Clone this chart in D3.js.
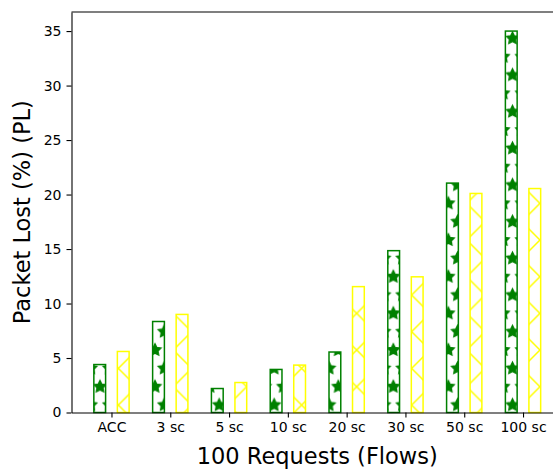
<!DOCTYPE html>
<html>
<head>
<meta charset="utf-8">
<script src="https://cdn.jsdelivr.net/npm/d3@7"></script>
<style>
  html, body { margin: 0; padding: 0; background: #fff; overflow: hidden; }
  svg { display: block; font-family: "DejaVu Sans", sans-serif; }
</style>
</head>
<body>
<div id="chart-container"></div>
<script>
const width = 553;
const height = 469;

// data
const categories = ["ACC", "3 sc", "5 sc", "10 sc", "20 sc", "30 sc", "50 sc", "100 sc"];
const greenValues = [4.4, 8.35, 2.2, 3.95, 5.55, 14.85, 21.05, 35.0];
const yellowValues = [5.6, 9.0, 2.75, 4.35, 11.55, 12.45, 20.1, 20.55];
const yTicks = [0, 5, 10, 15, 20, 25, 30, 35];

const series = [
  { key: "green", values: greenValues, color: "#008000", pattern: "stars", offset: -0.2 },
  { key: "yellow", values: yellowValues, color: "#ffff00", pattern: "crosses", offset: 0.2 },
];

const barWidth = 0.2;
const plot = { left: 71.5, right: 563, top: 12, bottom: 412.5 };
// hatch grid (matplotlib tiles its hatches on a fixed pixel grid)
const hatchTile = 110;
const hatchOrigin = { x: 100, y: 386.7 };

const x = d3
  .scaleLinear()
  .domain([-0.68, categories.length - 1 + 0.68])
  .range([plot.left, plot.right]);

const y = d3
  .scaleLinear()
  .domain([0, d3.max(greenValues.concat(yellowValues)) * 1.05])
  .range([plot.bottom, plot.top]);

const svg = d3
  .select("#chart-container")
  .append("svg")
  .attr("width", width)
  .attr("height", height)
  .attr("viewBox", `0 0 ${width} ${height}`);

svg.append("rect").attr("width", width).attr("height", height).attr("fill", "#fff");

const defs = svg.append("defs");

// star hatch: rows of filled 5-point stars, odd rows shifted half a step
const rowStep = hatchTile / 6;
const starR = rowStep / 3;
const starPath = d3
  .lineRadial()
  .angle((d, i) => (i * Math.PI) / 5)
  .radius((d, i) => (i % 2 === 0 ? starR : starR * 0.5))
  .curve(d3.curveLinearClosed)(d3.range(10));

const stars = defs
  .append("pattern")
  .attr("id", "stars")
  .attr("patternUnits", "userSpaceOnUse")
  .attr("x", hatchOrigin.x)
  .attr("y", hatchOrigin.y)
  .attr("width", rowStep)
  .attr("height", rowStep * 2);

[[0, 0], [rowStep, 0], [0, rowStep * 2], [rowStep, rowStep * 2], [rowStep / 2, rowStep]].forEach(([px, py]) => {
  stars
    .append("path")
    .attr("d", starPath)
    .attr("transform", `translate(${px},${py})`)
    .attr("fill", "#008000")
    .attr("stroke", "#008000")
    .attr("stroke-width", 1.4)
    .attr("stroke-linejoin", "miter");
});

// x hatch: diagonals in both directions
const crossStep = hatchTile / 3;
const crosses = defs
  .append("pattern")
  .attr("id", "crosses")
  .attr("patternUnits", "userSpaceOnUse")
  .attr("x", hatchOrigin.x)
  .attr("y", hatchOrigin.y)
  .attr("width", crossStep)
  .attr("height", crossStep);

crosses
  .append("path")
  .attr("d", `M-2,-2L${crossStep + 2},${crossStep + 2}M-2,${crossStep + 2}L${crossStep + 2},-2`)
  .attr("stroke", "#ffff00")
  .attr("stroke-width", 1.5)
  .attr("fill", "none");

// bars
series.forEach((s) => {
  svg
    .append("g")
    .selectAll("rect")
    .data(s.values)
    .join("rect")
    .attr("x", (d, i) => x(i + s.offset - barWidth / 2))
    .attr("y", (d) => y(d))
    .attr("width", (d, i) => x(i + s.offset + barWidth / 2) - x(i + s.offset - barWidth / 2))
    .attr("height", (d) => y(0) - y(d))
    .attr("fill", `url(#${s.pattern})`)
    .attr("stroke", s.color)
    .attr("stroke-width", 1.5);
});

// axes
const xAxis = svg
  .append("g")
  .attr("transform", `translate(0,${plot.bottom})`)
  .call(
    d3
      .axisBottom(x)
      .tickValues(d3.range(categories.length))
      .tickFormat((d) => categories[d])
      .tickSize(5)
      .tickPadding(5)
      .tickSizeOuter(0)
  );

const yAxis = svg
  .append("g")
  .attr("transform", `translate(${plot.left},0)`)
  .call(d3.axisLeft(y).tickValues(yTicks).tickSize(5).tickPadding(5).tickSizeOuter(0));

[xAxis, yAxis].forEach((g) => {
  g.selectAll("path, line").attr("stroke", "#000").attr("stroke-width", 1.1);
  g.selectAll("text").attr("fill", "#000").attr("font-size", 14).attr("font-family", "DejaVu Sans");
});

// top spine (right spine falls outside the picture)
svg
  .append("line")
  .attr("x1", plot.left)
  .attr("x2", plot.right)
  .attr("y1", plot.top)
  .attr("y2", plot.top)
  .attr("stroke", "#000")
  .attr("stroke-width", 1.1);

// labels
svg
  .append("text")
  .attr("x", (plot.left + plot.right) / 2)
  .attr("y", 464)
  .attr("text-anchor", "middle")
  .attr("font-size", 22.5)
  .attr("fill", "#000")
  .text("100 Requests (Flows)");

svg
  .append("text")
  .attr("transform", `translate(30,${(plot.top + plot.bottom) / 2}) rotate(-90)`)
  .attr("text-anchor", "middle")
  .attr("font-size", 22.5)
  .attr("fill", "#000")
  .text("Packet Lost (%) (PL)");
</script>
</body>
</html>
